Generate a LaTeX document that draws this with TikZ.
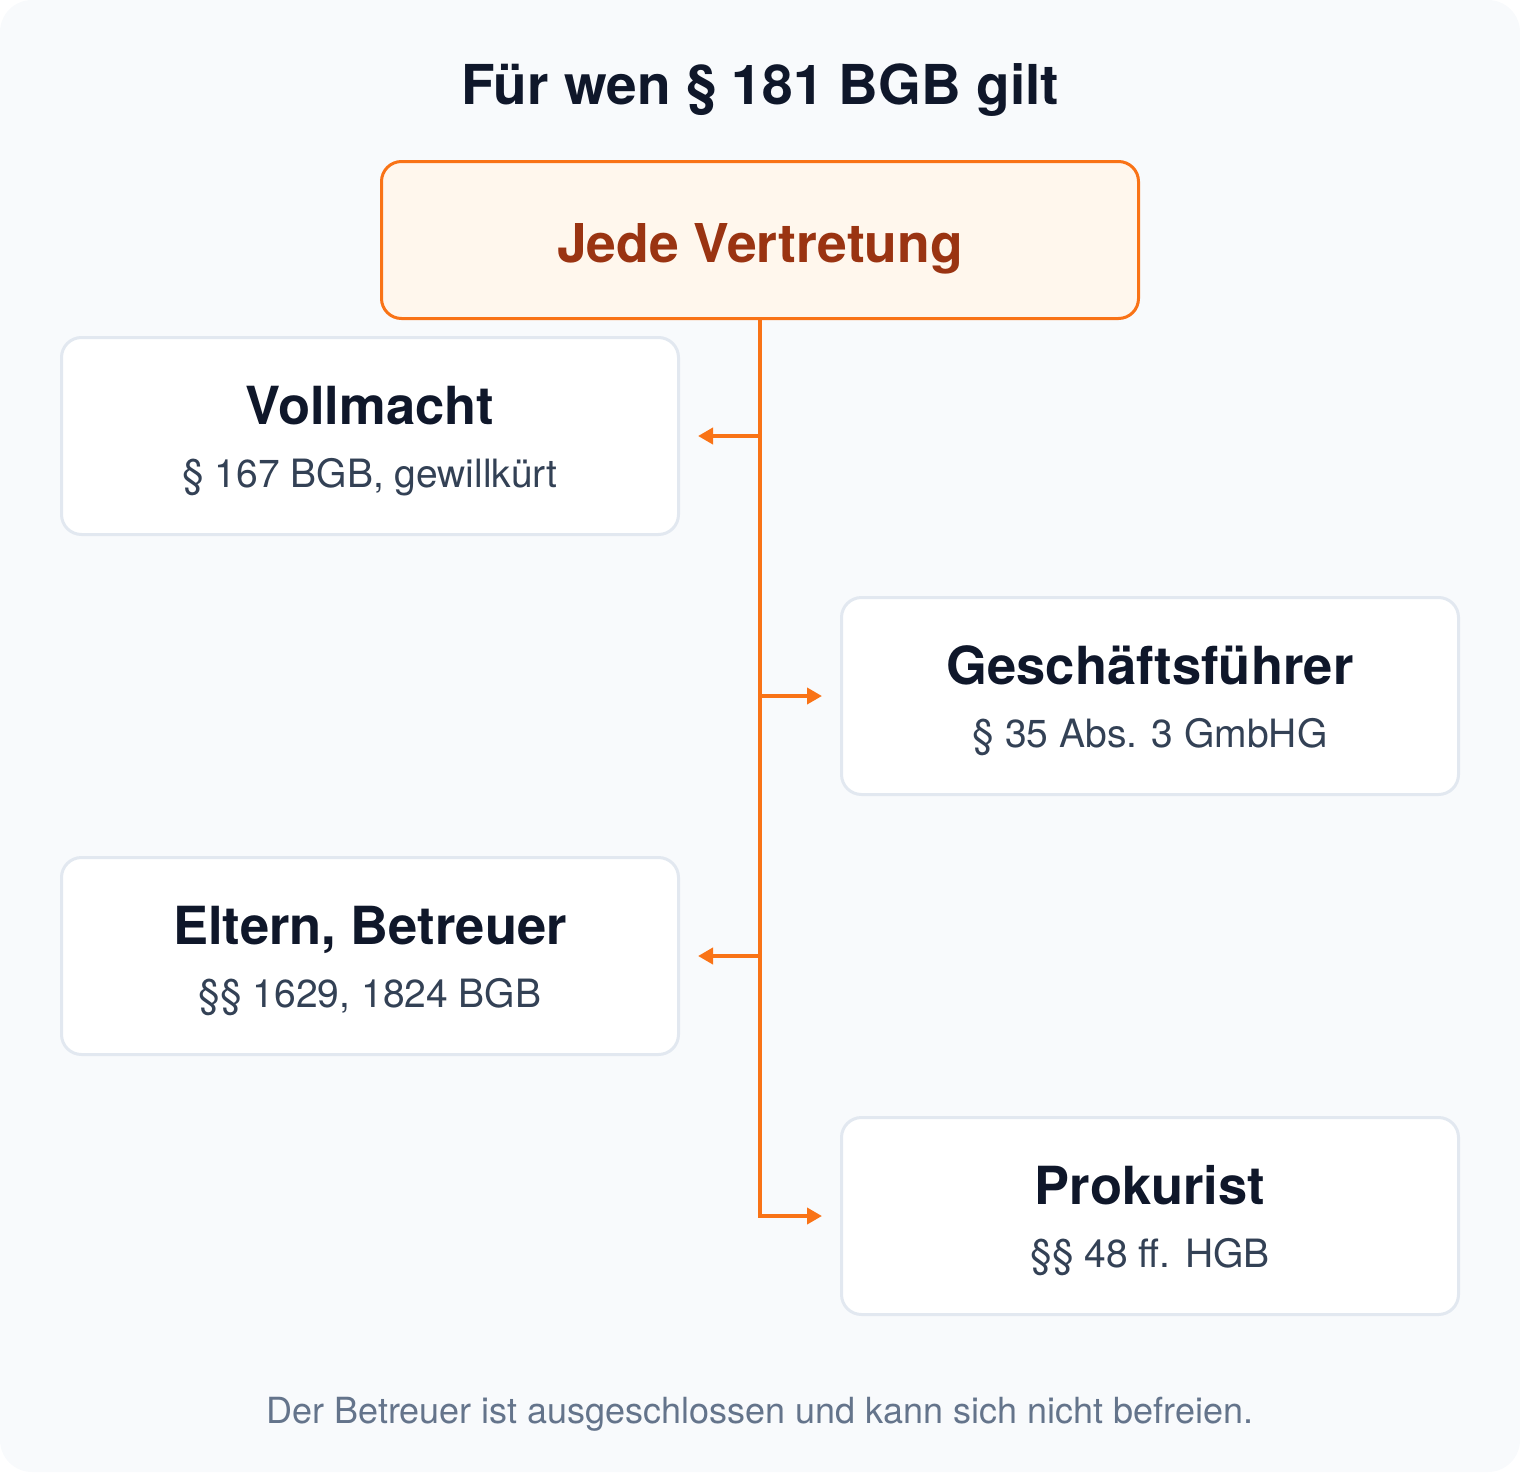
\documentclass[tikz,border=0pt]{standalone}
\usepackage{fontspec}
\setmainfont{TeX Gyre Heros}
\usetikzlibrary{arrows.meta}
\definecolor{bgc}{HTML}{F8FAFC}
\definecolor{orng}{HTML}{F97316}
\definecolor{orfill}{HTML}{FFF7ED}
\definecolor{ortext}{HTML}{9A3412}
\definecolor{boxline}{HTML}{E2E8F0}
\definecolor{dark}{HTML}{0F172A}
\definecolor{subc}{HTML}{334155}
\definecolor{footc}{HTML}{64748B}
\tikzset{
  topbox/.style={draw=orng, line width=3pt, fill=orfill, rounded corners=20pt,
    minimum width=757pt, minimum height=157pt, inner sep=0pt},
  itembox/.style={draw=boxline, line width=3pt, fill=white, rounded corners=20pt,
    minimum width=617pt, minimum height=197pt, inner sep=0pt},
  boxtitle/.style={anchor=base, text=dark, font=\fontsize{52.5}{60}\selectfont\bfseries, inner sep=0pt},
  boxsub/.style={anchor=base, text=subc, font=\fontsize{39}{46}\selectfont, inner sep=0pt},
  trunk/.style={draw=orng, line width=4pt},
  branch/.style={draw=orng, line width=4pt, -{Triangle[length=15pt,width=16pt]}},
}
\begin{document}
\begin{tikzpicture}[x=1pt,y=-1pt]
\useasboundingbox (0,0) rectangle (1520,1472);
\fill[bgc, rounded corners=32pt] (0,0) rectangle (1520,1472);

\node[anchor=base, text=dark, font=\fontsize{55}{62}\selectfont\bfseries, inner sep=0pt] (title) at (760,104) {Für wen § 181 BGB gilt};

\node[topbox] (top) at (760,240) {};
\node[anchor=base, text=ortext, font=\fontsize{53.5}{60}\selectfont\bfseries, inner sep=0pt] (toptext) at (760,262) {Jede Vertretung};

\node[itembox] (v) at (370,436) {};
\node[itembox] (g) at (1150,696) {};
\node[itembox] (e) at (370,956) {};
\node[itembox] (p) at (1150,1216) {};

\node[boxtitle] (vt) at ([yshift=12pt]v.center) {Vollmacht};
\node[boxsub] (vs) at ([yshift=-51pt]v.center) {§ 167 BGB, gewillkürt};
\node[boxtitle] (gt) at ([yshift=12pt]g.center) {Geschäftsführer};
\node[boxsub] (gs) at ([yshift=-51pt]g.center) {§ 35 Abs. 3 GmbHG};
\node[boxtitle] (et) at ([yshift=12pt]e.center) {Eltern, Betreuer};
\node[boxsub] (es) at ([yshift=-51pt]e.center) {§§ 1629, 1824 BGB};
\node[boxtitle] (pt) at ([yshift=12pt]p.center) {Prokurist};
\node[boxsub] (ps) at ([yshift=-51pt]p.center) {§§ 48 ff. HGB};

\coordinate (jv) at (top.south |- v.east);
\coordinate (jg) at (top.south |- g.west);
\coordinate (je) at (top.south |- e.east);
\coordinate (jp) at (top.south |- p.west);

\draw[trunk] ([yshift=1.5pt]top.south) -- ([yshift=-2pt]jp);
\draw[branch] (jv) -- ([xshift=18pt]v.east);
\draw[branch] (jg) -- ([xshift=-18pt]g.west);
\draw[branch] (je) -- ([xshift=18pt]e.east);
\draw[branch] ([xshift=-2pt]jp) -- ([xshift=-18pt]p.west);

\node[anchor=base, text=footc, font=\fontsize{36}{42}\selectfont, inner sep=0pt] (foot) at (760,1423) {Der Betreuer ist ausgeschlossen und kann sich nicht befreien.};
\end{tikzpicture}
\end{document}
